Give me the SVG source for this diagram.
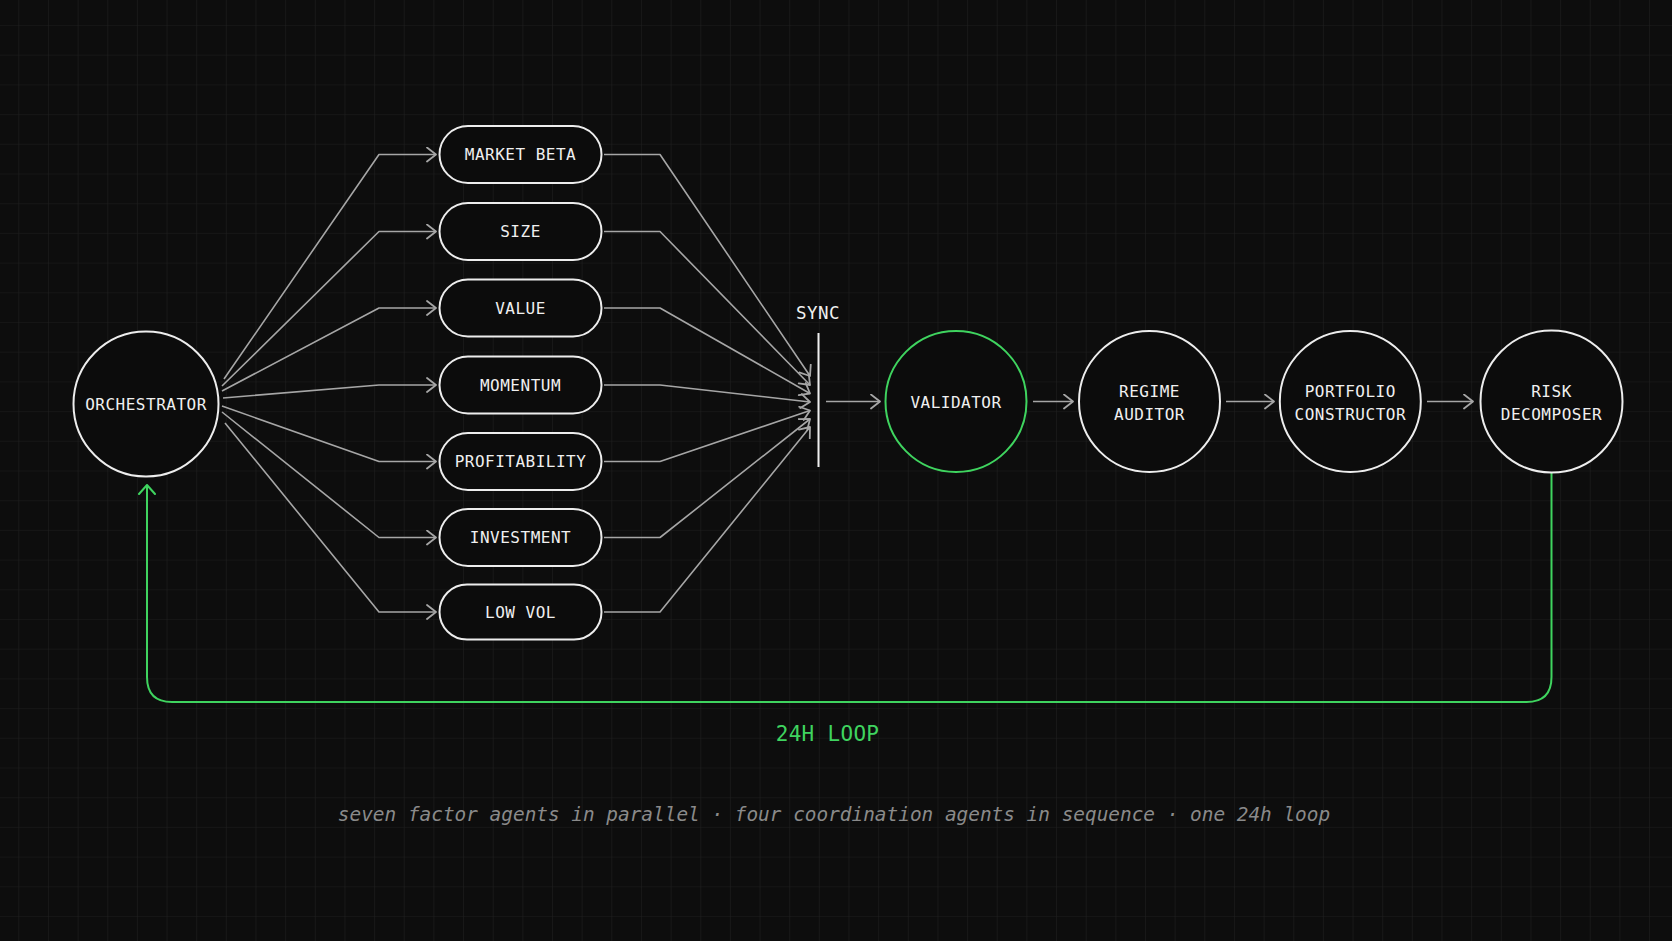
<svg xmlns="http://www.w3.org/2000/svg" width="1672" height="941" viewBox="0 0 1672 941">
  <defs>
    <pattern id="grid" x="18.3" y="25" width="29.65" height="29.7" patternUnits="userSpaceOnUse">
      <path d="M0,0 H29.65 M0,0 V29.7" fill="none" stroke="#1e1e1e" stroke-width="1.2"/>
    </pattern>
    <marker id="arr" viewBox="0 0 11 16" refX="10" refY="8" markerWidth="11" markerHeight="16" markerUnits="userSpaceOnUse" orient="auto">
      <path d="M1,1 L10,8 L1,15" fill="none" stroke="#a6a6a6" stroke-width="1.8" stroke-linecap="round" stroke-linejoin="round"/>
    </marker>
    <marker id="arrG" viewBox="0 0 11 18" refX="10" refY="9" markerWidth="11" markerHeight="18" markerUnits="userSpaceOnUse" orient="auto">
      <path d="M1,1 L10,9 L1,17" fill="none" stroke="#3fd45f" stroke-width="2" stroke-linecap="round" stroke-linejoin="round"/>
    </marker>
  </defs>
  <style>
    .node { fill: #0c0c0c; stroke: #ededed; stroke-width: 2; }
    .green { stroke: #3fd45f; }
    .lbl { font-family: "DejaVu Sans Mono", "Liberation Mono", monospace; font-size: 16px; letter-spacing: 0.5px; fill: #f0f0f0; text-anchor: middle; }
    .conn { fill: none; stroke: #a6a6a6; stroke-width: 1.6; stroke-linejoin: round; }
    .loop { fill: none; stroke: #3fd45f; stroke-width: 2; }
  </style>

  <rect width="1672" height="941" fill="#0d0d0d"/>
  <rect width="1672" height="941" fill="url(#grid)"/>

  <g id="connectors">
    <!-- orchestrator to factor agents -->
    <path class="conn" marker-end="url(#arr)" d="M224,379 L379,154.5 H436"/>
    <path class="conn" marker-end="url(#arr)" d="M222,386 L379,231.5 H436"/>
    <path class="conn" marker-end="url(#arr)" d="M222,391 L379,308 H436"/>
    <path class="conn" marker-end="url(#arr)" d="M223,398 L379,385 H436"/>
    <path class="conn" marker-end="url(#arr)" d="M222,406 L379,461.5 H436"/>
    <path class="conn" marker-end="url(#arr)" d="M222,412 L379,537.5 H436"/>
    <path class="conn" marker-end="url(#arr)" d="M225,423 L379,612 H436"/>
    <!-- factor agents to sync -->
    <path class="conn" marker-end="url(#arr)" d="M604,154.5 H660 L810,376"/>
    <path class="conn" marker-end="url(#arr)" d="M604,231.5 H660 L810,385"/>
    <path class="conn" marker-end="url(#arr)" d="M604,308 H660 L810,393.5"/>
    <path class="conn" marker-end="url(#arr)" d="M604,385 H660 L810,402"/>
    <path class="conn" marker-end="url(#arr)" d="M604,461.5 H660 L810,410.5"/>
    <path class="conn" marker-end="url(#arr)" d="M604,537.5 H660 L810,419"/>
    <path class="conn" marker-end="url(#arr)" d="M604,612 H660 L810,427"/>
    <!-- sequence -->
    <path class="conn" marker-end="url(#arr)" d="M826,401.5 H880"/>
    <path class="conn" marker-end="url(#arr)" d="M1033,401.5 H1073"/>
    <path class="conn" marker-end="url(#arr)" d="M1226,401.5 H1274"/>
    <path class="conn" marker-end="url(#arr)" d="M1427,401.5 H1473"/>
    <!-- 24h loop -->
    <path class="loop" marker-end="url(#arrG)" d="M1551.5,472.5 V677 Q1551.5,702 1526.5,702 H172 Q147,702 147,677 V485"/>
  </g>

  <g id="sync">
    <line x1="818.5" y1="333" x2="818.5" y2="467" stroke="#f0f0f0" stroke-width="2"/>
    <text x="818" y="319" class="lbl" style="font-size:17.5px">SYNC</text>
  </g>

  <g id="orchestrator">
    <circle class="node" cx="146" cy="404" r="72.5"/>
    <text class="lbl" x="146" y="409.5">ORCHESTRATOR</text>
  </g>

  <g id="market-beta">
    <rect class="node" x="439.5" y="126" width="162" height="57" rx="28.5"/>
    <text class="lbl" x="520.5" y="160.3">MARKET BETA</text>
  </g>
  <g id="size">
    <rect class="node" x="439.5" y="203" width="162" height="57" rx="28.5"/>
    <text class="lbl" x="520.5" y="237.3">SIZE</text>
  </g>
  <g id="value">
    <rect class="node" x="439.5" y="279.5" width="162" height="57" rx="28.5"/>
    <text class="lbl" x="520.5" y="313.8">VALUE</text>
  </g>
  <g id="momentum">
    <rect class="node" x="439.5" y="356.5" width="162" height="57" rx="28.5"/>
    <text class="lbl" x="520.5" y="390.8">MOMENTUM</text>
  </g>
  <g id="profitability">
    <rect class="node" x="439.5" y="433" width="162" height="57" rx="28.5"/>
    <text class="lbl" x="520.5" y="467.3">PROFITABILITY</text>
  </g>
  <g id="investment">
    <rect class="node" x="439.5" y="509" width="162" height="57" rx="28.5"/>
    <text class="lbl" x="520.5" y="543.3">INVESTMENT</text>
  </g>
  <g id="low-vol">
    <rect class="node" x="439.5" y="584.5" width="162" height="55" rx="27.5"/>
    <text class="lbl" x="520.5" y="617.8">LOW VOL</text>
  </g>

  <g id="validator">
    <circle class="node green" cx="956" cy="401.5" r="70.5"/>
    <text class="lbl" x="956" y="408">VALIDATOR</text>
  </g>
  <g id="regime-auditor">
    <circle class="node" cx="1149.5" cy="401.5" r="70.5"/>
    <text class="lbl" x="1149.5" y="396.5">REGIME</text>
    <text class="lbl" x="1149.5" y="420">AUDITOR</text>
  </g>
  <g id="portfolio-constructor">
    <circle class="node" cx="1350.3" cy="401.5" r="70.5"/>
    <text class="lbl" x="1350.3" y="396.5">PORTFOLIO</text>
    <text class="lbl" x="1350.3" y="420">CONSTRUCTOR</text>
  </g>
  <g id="risk-decomposer">
    <circle class="node" cx="1551.5" cy="401.5" r="71"/>
    <text class="lbl" x="1551.5" y="396.5">RISK</text>
    <text class="lbl" x="1551.5" y="420">DECOMPOSER</text>
  </g>

  <g id="loop-label">
    <text x="827.5" y="741" font-family="DejaVu Sans Mono, Liberation Mono, monospace" font-size="21" letter-spacing="0.3" fill="#3fd45f" text-anchor="middle">24H LOOP</text>
  </g>

  <g id="caption">
    <text x="834" y="821" font-family="DejaVu Sans Mono, Liberation Mono, monospace" font-size="19.4" font-style="italic" fill="#8a8a8a" text-anchor="middle">seven factor agents in parallel · four coordination agents in sequence · one 24h loop</text>
  </g>
</svg>
